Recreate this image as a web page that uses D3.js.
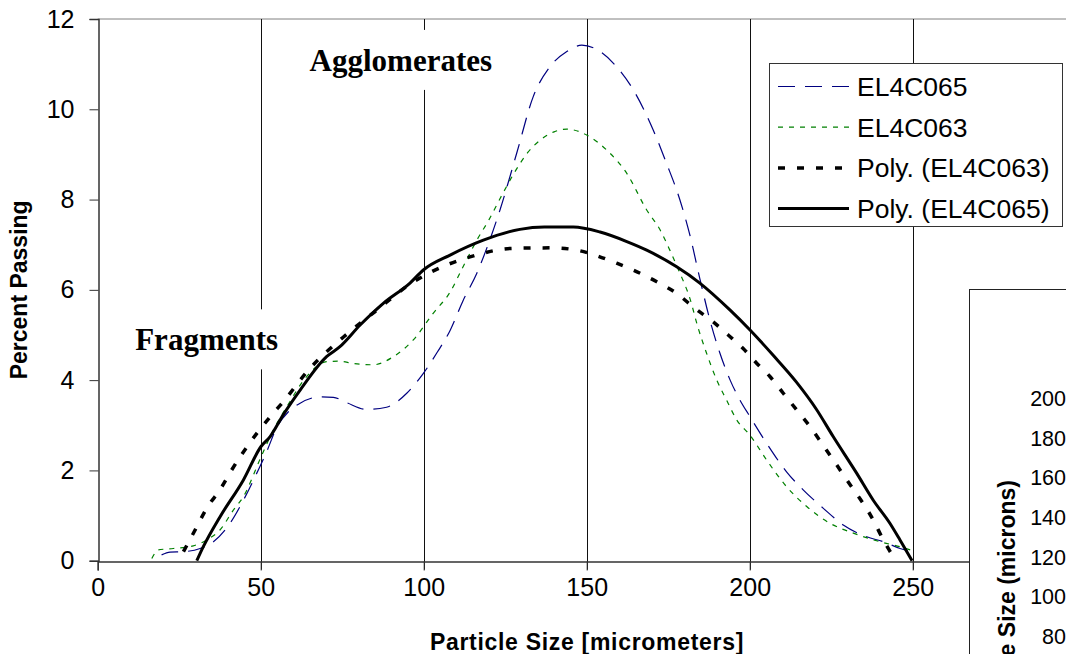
<!DOCTYPE html>
<html>
<head>
<meta charset="utf-8">
<script src="https://cdn.jsdelivr.net/npm/d3@7"></script>
<style>
  html, body { margin: 0; padding: 0; background: #fff; }
  svg { display: block; }
  text { font-family: "Liberation Sans", Arial, sans-serif; fill: #000; }
</style>
</head>
<body>
<div id="grafico"></div>
<script>
// Data
const sizeEL4C065 = [19.6, 22.2, 26.3, 31.4, 35.5, 40.6, 44.7, 48.8, 51.8, 54.9, 58.5, 62.1, 68.2, 72.3, 76.4, 82.5, 88.6, 94.8, 99.9, 104.0, 108.1, 112.0, 116.3, 120.0, 123.4, 128.5, 133.6, 138.7, 143.9, 148.5, 154.1, 159.2, 164.3, 170.4, 174.5, 178.6, 181.7, 184.7, 187.8, 190.9, 194.0, 197.0, 200.1, 205.2, 211.3, 216.4, 222.6, 228.7, 235.9, 241.0, 246.1, 249.5];
const passEL4C065 = [0.13, 0.19, 0.20, 0.27, 0.42, 0.83, 1.34, 1.94, 2.41, 2.95, 3.30, 3.49, 3.63, 3.62, 3.50, 3.35, 3.40, 3.71, 4.15, 4.60, 5.10, 5.75, 6.37, 7.05, 7.77, 9.02, 10.28, 10.94, 11.28, 11.42, 11.28, 10.94, 10.43, 9.54, 8.80, 7.99, 7.20, 6.25, 5.33, 4.59, 4.00, 3.56, 3.19, 2.60, 1.97, 1.57, 1.16, 0.79, 0.53, 0.42, 0.27, 0.20];

const sizeEL4C063 = [16.6, 18.6, 23.2, 29.3, 34.4, 37.5, 41.6, 44.7, 50.1, 53.9, 58.0, 64.1, 70.2, 74.0, 78.4, 84.5, 90.7, 96.8, 102.9, 108.1, 112.0, 116.3, 120.0, 124.0, 128.0, 132.0, 136.0, 140.0, 143.9, 150.0, 156.1, 162.3, 168.4, 172.5, 175.5, 178.6, 181.7, 184.0, 186.8, 189.9, 192.9, 196.0, 200.1, 205.2, 211.3, 217.5, 224.6, 231.8, 240.0, 246.1, 250.0];
const passEL4C063 = [0.05, 0.24, 0.27, 0.33, 0.50, 0.68, 1.12, 1.42, 2.30, 2.90, 3.41, 4.08, 4.41, 4.42, 4.37, 4.34, 4.52, 4.89, 5.48, 5.95, 6.50, 7.10, 7.55, 8.10, 8.62, 9.05, 9.33, 9.50, 9.56, 9.43, 9.10, 8.58, 7.77, 7.33, 6.88, 6.37, 5.80, 5.20, 4.59, 4.00, 3.56, 3.12, 2.78, 2.23, 1.64, 1.20, 0.83, 0.61, 0.42, 0.31, 0.22];

const sizePoly063 = [26.3, 30.4, 33.4, 37.5, 41.1, 44.7, 48.8, 53.4, 56.9, 65.1, 75.3, 85.1, 96.3, 102.4, 114.2, 127.5, 139.8, 146.9, 159.2, 171.5, 177.6, 183.2, 188.8, 193.4, 198.0, 202.2, 206.2, 210.3, 214.4, 218.5, 222.1, 229.8, 237.9, 241.0, 244.1, 245.0];
const passPoly063 = [0.20, 0.75, 1.16, 1.57, 2.01, 2.41, 2.82, 3.23, 3.52, 4.26, 4.95, 5.52, 6.15, 6.40, 6.73, 6.92, 6.93, 6.88, 6.59, 6.18, 5.92, 5.59, 5.29, 5.00, 4.70, 4.37, 4.08, 3.71, 3.34, 2.97, 2.60, 1.79, 0.90, 0.46, 0.09, 0.00];

const sizePoly065 = [30.4, 32.4, 37.5, 44.7, 50.1, 52.9, 56.9, 62.1, 70.2, 74.3, 80.5, 87.6, 95.8, 99.9, 108.1, 118.3, 129.5, 137.0, 145.9, 154.1, 162.3, 168.4, 177.6, 184.7, 194.0, 200.1, 207.2, 214.4, 220.5, 225.6, 232.8, 237.9, 243.0, 246.1, 249.8];
const passPoly065 = [0.00, 0.31, 0.97, 1.79, 2.53, 2.75, 3.23, 3.78, 4.52, 4.74, 5.22, 5.70, 6.15, 6.44, 6.77, 7.10, 7.34, 7.39, 7.39, 7.28, 7.07, 6.88, 6.51, 6.15, 5.55, 5.11, 4.55, 3.95, 3.35, 2.75, 1.94, 1.34, 0.83, 0.46, 0.00];

const xTicks = [0, 50, 100, 150, 200, 250];
const yTicks = [0, 2, 4, 6, 8, 10, 12];
const insetTicks = [80, 100, 120, 140, 160, 180, 200];

const seriesNames = ['EL4C065', 'EL4C063', 'Poly. (EL4C063)', 'Poly. (EL4C065)'];
const annotations = [
    { text: 'Agglomerates', x: 65, y: 10.85 },
    { text: 'Fragments', x: 11.5, y: 4.66 }
];

document.addEventListener('DOMContentLoaded', () => {
    const width = 1066;
    const height = 654;

    const svg = d3.select('#grafico')
        .append('svg')
        .attr('width', width)
        .attr('height', height);

    const x = d3.scaleLinear().domain([0, 300]).range([97.7, 1075.7]);
    const y = d3.scaleLinear().domain([0, 12]).range([560.7, 19]);

    // borde del area de trazado (arriba)
    svg.append('line')
        .attr('x1', x(0)).attr('x2', width)
        .attr('y1', y(12)).attr('y2', y(12))
        .attr('stroke', '#808080').attr('stroke-width', 1);

    // lineas verticales de cuadricula + marcas
    svg.append('g')
        .selectAll('line')
        .data(xTicks.slice(1))
        .enter()
        .append('line')
        .attr('x1', d => Math.round(x(d)) + 0.5)
        .attr('x2', d => Math.round(x(d)) + 0.5)
        .attr('y1', y(12))
        .attr('y2', y(0) + 9)
        .attr('stroke', '#111')
        .attr('stroke-width', 1);

    // eje x
    const xAxis = d3.axisBottom(x).tickValues(xTicks).tickSize(9).tickPadding(8);
    const gx = svg.append('g')
        .attr('transform', `translate(0, ${Math.round(y(0)) + 0.5})`)
        .call(xAxis);
    gx.select('.domain').attr('stroke', '#333').attr('stroke-width', 1.5);
    gx.selectAll('.tick line').attr('stroke', '#333');
    gx.selectAll('.tick text')
        .style('font-family', '"Liberation Sans", Arial, sans-serif')
        .style('font-size', '25px')
        .attr('fill', '#000');

    // eje y
    const yAxis = d3.axisLeft(y).tickValues(yTicks).tickSize(9).tickPadding(15);
    const gy = svg.append('g')
        .attr('transform', `translate(${Math.round(x(0)) + 0.5}, 0)`)
        .call(yAxis);
    gy.select('.domain').attr('stroke', '#333').attr('stroke-width', 1.5);
    gy.selectAll('.tick line').attr('stroke', '#333');
    gy.selectAll('.tick text')
        .style('font-family', '"Liberation Sans", Arial, sans-serif')
        .style('font-size', '25px')
        .attr('fill', '#000');

    // titulos de ejes
    svg.append('text')
        .attr('x', 587)
        .attr('y', 650)
        .attr('text-anchor', 'middle')
        .style('font-size', '23px')
        .style('font-weight', 'bold')
        .style('letter-spacing', '0.7px')
        .text('Particle Size [micrometers]');

    svg.append('text')
        .attr('transform', `translate(27, ${(y(0) + y(12)) / 2}) rotate(-90)`)
        .attr('text-anchor', 'middle')
        .style('font-size', '23px')
        .style('font-weight', 'bold')
        .text('Percent Passing');

    // series
    const series = [
        { xs: sizeEL4C065, ys: passEL4C065, color: '#000080', width: 1.2, dash: '17,10' },
        { xs: sizeEL4C063, ys: passEL4C063, color: '#008000', width: 1.2, dash: '5,6' },
        { xs: sizePoly063, ys: passPoly063, color: '#000', width: 3.5, dash: '7,12' },
        { xs: sizePoly065, ys: passPoly065, color: '#000', width: 3, dash: null }
    ];

    const line = d3.line()
        .x(d => x(d[0]))
        .y(d => y(d[1]))
        .curve(d3.curveMonotoneX);

    svg.append('g')
        .selectAll('path')
        .data(series)
        .enter()
        .append('path')
        .attr('d', s => line(d3.zip(s.xs, s.ys)))
        .attr('fill', 'none')
        .attr('stroke', s => s.color)
        .attr('stroke-width', s => s.width)
        .attr('stroke-dasharray', s => s.dash);

    // etiquetas con fondo blanco
    annotations.forEach(a => {
        const g = svg.append('g');
        const t = g.append('text')
            .attr('x', x(a.x))
            .attr('y', y(a.y))
            .style('font-family', '"Liberation Serif", "Times New Roman", serif')
            .style('font-size', '31px')
            .style('font-weight', 'bold')
            .text(a.text);
        const bb = t.node().getBBox();
        g.insert('rect', 'text')
            .attr('x', bb.x - 10)
            .attr('y', y(a.y) - 41)
            .attr('width', bb.width + 20)
            .attr('height', 60)
            .attr('fill', '#fff');
    });

    // leyenda
    const leg = svg.append('g').attr('id', 'legend');
    leg.append('rect')
        .attr('x', 769.5).attr('y', 63.5)
        .attr('width', 293).attr('height', 163)
        .attr('fill', '#fff')
        .attr('stroke', '#333')
        .attr('stroke-width', 1);

    const rowY = i => 86.5 + i * 40.7;
    leg.selectAll('line')
        .data(series)
        .enter()
        .append('line')
        .attr('x1', 778).attr('x2', 849)
        .attr('y1', (d, i) => rowY(i)).attr('y2', (d, i) => rowY(i))
        .attr('stroke', d => d.color)
        .attr('stroke-width', d => d.width)
        .attr('stroke-dasharray', d => d.dash);

    leg.selectAll('text')
        .data(seriesNames)
        .enter()
        .append('text')
        .attr('x', 857)
        .attr('y', (d, i) => rowY(i) + 9.5)
        .style('font-size', '26.5px')
        .text(d => d);

    // segundo grafico (recortado a la derecha)
    const inset = svg.append('g');
    inset.append('rect')
        .attr('x', 969.5).attr('y', 289.5)
        .attr('width', 200).attr('height', 400)
        .attr('fill', '#fff')
        .attr('stroke', '#222')
        .attr('stroke-width', 1);

    const yInset = d3.scaleLinear().domain([80, 200]).range([636.7, 398.3]);
    inset.selectAll('text.tick')
        .data(insetTicks)
        .enter()
        .append('text')
        .attr('class', 'tick')
        .attr('x', 1066)
        .attr('y', d => yInset(d) + 7.5)
        .attr('text-anchor', 'end')
        .style('font-size', '21.5px')
        .text(d => d);

    inset.append('text')
        .attr('transform', 'translate(1015, 480) rotate(-90)')
        .attr('text-anchor', 'end')
        .style('font-size', '23px')
        .style('font-weight', 'bold')
        .text('Particle Size (microns)');
});
</script>
</body>
</html>
